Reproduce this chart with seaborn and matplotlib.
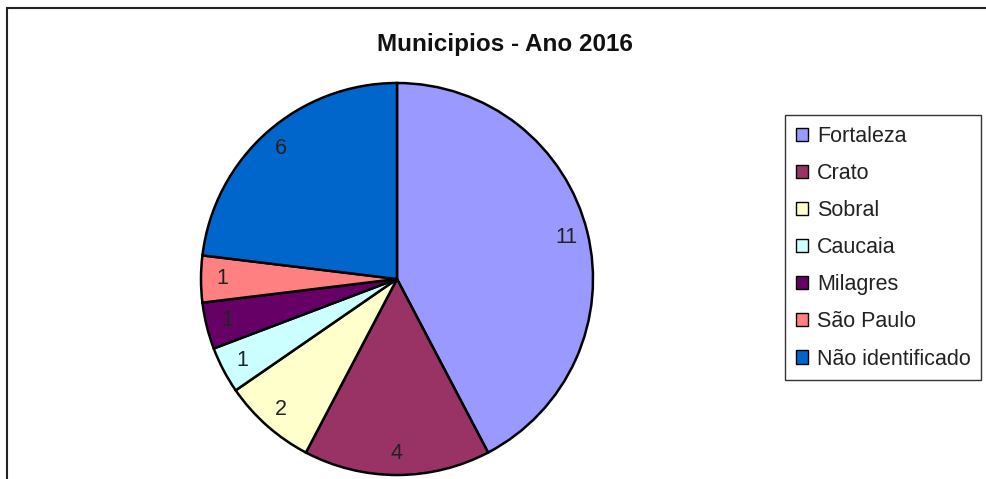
import matplotlib
matplotlib.use("Agg")
import matplotlib.pyplot as plt
import seaborn as sns
from matplotlib.patches import Patch, Rectangle

categories = ["Fortaleza", "Crato", "Sobral", "Caucaia", "Milagres", "São Paulo", "Não identificado"]
values = [11, 4, 2, 1, 1, 1, 6]
colors = ["#9999FF", "#993366", "#FFFFCC", "#CCFFFF", "#660066", "#FF8080", "#0066CC"]
title = "Municipios - Ano 2016"

sns.set_theme(style="white")
plt.rcParams['font.family'] = ['Liberation Sans', 'DejaVu Sans']

W, H = 986, 479
fig = plt.figure(figsize=(W / 100, H / 100), dpi=100)
fig.patch.set_facecolor("white")

# outer frame
fig.patches.append(Rectangle((7 / W, -0.1), 1.2, 1 - 8 / H + 0.1, transform=fig.transFigure,
                             fill=False, edgecolor="#222222", linewidth=1.5))

cx, cy, r = 397, 479 - 279, 196
ax = fig.add_axes([(cx - r) / W, (cy - r) / H, 2 * r / W, 2 * r / H])
wedges, texts = ax.pie(values, colors=colors, startangle=90, counterclock=False,
                       labels=[str(v) for v in values], labeldistance=0.89,
                       wedgeprops=dict(edgecolor="black", linewidth=1.8),
                       textprops=dict(fontsize=15.5, color="#222222"))
for t in texts:
    t.set_ha("center")
    t.set_va("center")
for w in wedges:
    w.set_clip_on(False)
ax.set_xlim(-1, 1)
ax.set_ylim(-1, 1)
ax.set_aspect("equal")
ax.axis("off")

fig.text(505 / W, 1 - 45 / H, title, ha="center", va="center", fontsize=17.5, fontweight="bold", color="#111111")

handles = [Patch(facecolor=c, edgecolor="black", linewidth=1) for c in colors]
leg = fig.legend(handles, categories, loc="upper left", bbox_to_anchor=(785 / W, 1 - 115 / H),
                 frameon=True, fancybox=False, fontsize=15.5, handlelength=0.56, handleheight=0.56,
                 handletextpad=0.42, labelspacing=0.75, borderpad=0.5, borderaxespad=0)
leg.get_frame().set_edgecolor("black")
leg.get_frame().set_linewidth(1.0)
for t in leg.get_texts():
    t.set_color("#222222")

fig.savefig("out.png", dpi=100)
